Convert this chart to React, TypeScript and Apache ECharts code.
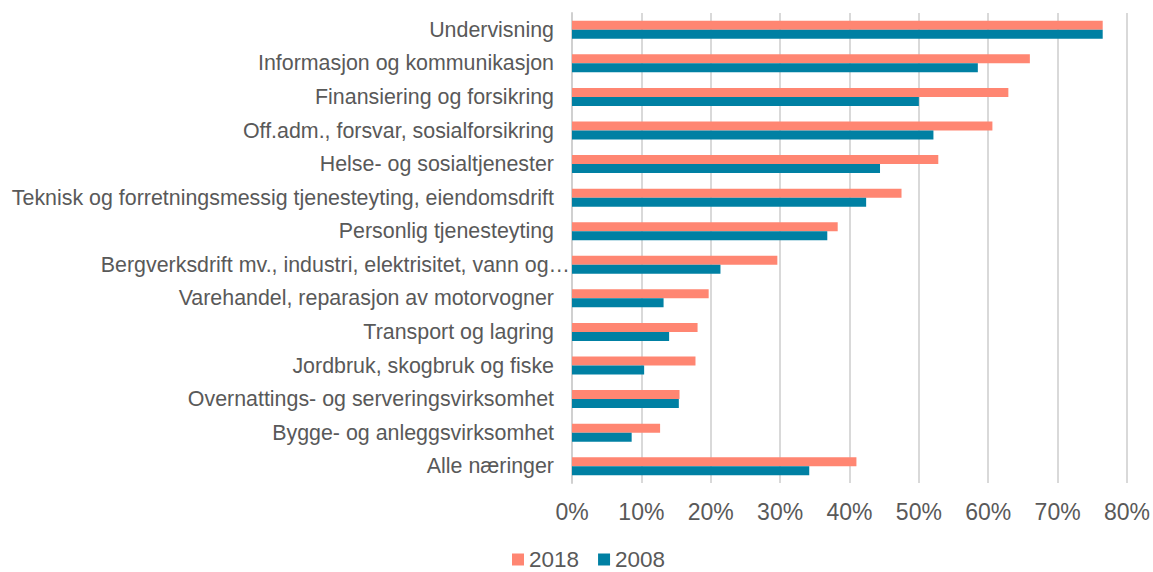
import React, { useEffect, useRef } from "react";
import * as echarts from "echarts";

const categories = [
  "Undervisning",
  "Informasjon og kommunikasjon",
  "Finansiering og forsikring",
  "Off.adm., forsvar, sosialforsikring",
  "Helse- og sosialtjenester",
  "Teknisk og forretningsmessig tjenesteyting, eiendomsdrift",
  "Personlig tjenesteyting",
  "Bergverksdrift mv., industri, elektrisitet, vann og…",
  "Varehandel, reparasjon av motorvogner",
  "Transport og lagring",
  "Jordbruk, skogbruk og fiske",
  "Overnattings- og serveringsvirksomhet",
  "Bygge- og anleggsvirksomhet",
  "Alle næringer",
];

const values2018 = [76.5, 66.0, 62.9, 60.6, 52.8, 47.5, 38.3, 29.6, 19.7, 18.1, 17.8, 15.5, 12.7, 41.0];
const values2008 = [76.5, 58.5, 50.0, 52.1, 44.4, 42.4, 36.8, 21.4, 13.2, 14.0, 10.4, 15.4, 8.6, 34.2];

const seriesNames = ["2018", "2008"];
const xTicks = { min: 0, max: 80, interval: 10 };

export default function App() {
  const ref = useRef<HTMLDivElement>(null);
  useEffect(() => {
    if (!ref.current) return;
    const chart = echarts.init(ref.current, null, { renderer: "svg" });
    const font = "'Liberation Sans', Arial, sans-serif";
    const yData = categories.map((c) =>
      c.endsWith("…") ? { value: c, textStyle: { padding: [0, -16, 0, 0] } } : c
    );
    chart.setOption({
      animation: false,
      textStyle: { fontFamily: font },
      grid: { left: 572, right: 26, top: 13, bottom: 89, containLabel: false },
      legend: {
        data: seriesNames,
        top: 548,
        left: 507,
        padding: [0, 5, 0, 5],
        icon: "rect",
        itemWidth: 12,
        itemHeight: 12,
        itemGap: 19,
        textStyle: { fontSize: 22.5, color: "#595959", fontFamily: font },
      },
      xAxis: {
        type: "value",
        min: xTicks.min,
        max: xTicks.max,
        interval: xTicks.interval,
        axisLine: { show: false },
        axisTick: { show: false },
        axisLabel: {
          formatter: "{value}%",
          fontSize: 23,
          color: "#595959",
          margin: 17,
          fontFamily: font,
        },
        splitLine: { show: true, lineStyle: { color: "#d9d9d9", width: 2 } },
      },
      yAxis: {
        type: "category",
        data: yData,
        inverse: true,
        axisLine: { show: true, lineStyle: { color: "#d0d0d0", width: 2 } },
        axisTick: { show: false },
        axisLabel: {
          fontSize: 21.4,
          color: "#595959",
          margin: 18,
          fontFamily: font,
        },
      },
      series: [
        {
          name: seriesNames[0],
          type: "bar",
          data: values2018,
          barWidth: 9,
          barGap: "0%",
          itemStyle: { color: "#FF8672" },
        },
        {
          name: seriesNames[1],
          type: "bar",
          data: values2008,
          barWidth: 9,
          barGap: "0%",
          itemStyle: { color: "#0080A3" },
        },
      ],
    });
    return () => chart.dispose();
  }, []);
  return (
    <div
      ref={ref}
      style={{ position: "absolute", left: 0, top: 0, width: 1153, height: 572 }}
    />
  );
}
